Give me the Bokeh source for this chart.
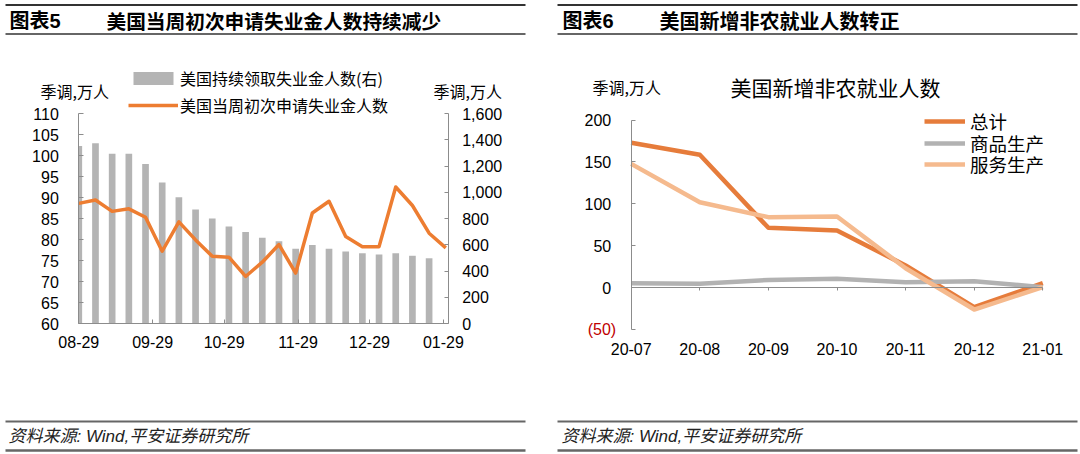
import numpy as np
import pandas as pd
from bokeh.plotting import figure
from bokeh.models import (Range1d, LinearAxis, FixedTicker, NumeralTickFormatter,
                          Label, Legend, LegendItem)
from bokeh.embed import file_html
from bokeh.resources import INLINE

# ---------------- data: chart 5 (weekly jobless claims, 万人) ----------------
week_dates = ["2020-08-29", "2020-09-05", "2020-09-12", "2020-09-19", "2020-09-26",
              "2020-10-03", "2020-10-10", "2020-10-17", "2020-10-24", "2020-10-31",
              "2020-11-07", "2020-11-14", "2020-11-21", "2020-11-28", "2020-12-05",
              "2020-12-12", "2020-12-19", "2020-12-26", "2021-01-02", "2021-01-09",
              "2021-01-16", "2021-01-23", "2021-01-30"]
initial_claims = [88.6, 89.4, 86.7, 87.3, 85.3, 77.2, 84.2, 79.9, 76.0, 75.8, 71.2, 74.6,
                  78.8, 72.0, 86.3, 89.1, 80.7, 78.3, 78.3, 92.5, 88.1, 81.5, 78.0]
continuing_claims = [1352, 1373, 1293, 1293, 1216, 1075, 962, 868, 800, 739, 698, 653,
                     627, 569, 599, 569, 548, 535, 526, 535, 516, 497]
left_ticks = [60, 65, 70, 75, 80, 85, 90, 95, 100, 105, 110]
right_ticks = [0, 200, 400, 600, 800, 1000, 1200, 1400, 1600]
month_ticks = ["2020-08-29", "2020-09-29", "2020-10-29", "2020-11-29", "2020-12-29", "2021-01-29"]
axis_end_date = "2021-01-31"

# ---------------- data: chart 6 (nonfarm payrolls, 万人) ----------------
nfp_months = ["20-07", "20-08", "20-09", "20-10", "20-11", "20-12", "21-01"]
nfp_total = [173.0, 158.5, 71.3, 68.1, 26.4, -23.5, 5.2]
nfp_goods = [5.2, 4.4, 9.0, 10.4, 6.3, 7.5, 0.4]
nfp_service = [147.7, 101.9, 84.0, 84.8, 23.0, -26.3, 0.4]
nfp_ticks = [0, 50, 100, 150, 200]
nfp_neg_ticks = [-50]

# ---------------- fonts / colours ----------------
CJK = "Noto Sans CJK SC"
NUM = "Liberation Sans"
MIX = "'Liberation Sans', 'Noto Sans CJK SC'"
ORANGE = "#ED7D31"
BAR_GRAY = "#B4B4B4"
TOTAL_C = "#E67C3B"
GOODS_C = "#B2B2B2"
SERV_C = "#F5BA8E"
AXIS_C = "#8C8C8C"

# ---------------- page geometry (page pixels) ----------------
W, H = 1078, 452
OX, OY = 0, 0
DAY = 86400000.0


def ms(d):
    return pd.Timestamp(d).value / 1e6


# chart 5 plot area
L_X0, L_PX_DAY = 78.3, 2.383
L_Y_LO, L_Y_HI = 323.0, 113.0
# chart 6 plot area
R_X0, R_DX = 630.7, 68.6
R_Y0, R_PXU = 287.0, 0.8372

p = figure(width=W, height=H, x_range=Range1d(OX, OX + W), y_range=Range1d(OY + H, OY),
           output_backend="svg", toolbar_location=None, x_axis_location=None,
           y_axis_location=None, min_border=0, outline_line_color=None)
p.grid.visible = False

t0 = ms(week_dates[0])
t_end = ms(axis_end_date)
ly_px = (L_Y_LO - L_Y_HI) / (left_ticks[-1] - left_ticks[0])
ry_px = (L_Y_LO - L_Y_HI) / (right_ticks[-1] - right_ticks[0])
p.extra_x_ranges = {
    "lx": Range1d(t0 + (OX - L_X0) / L_PX_DAY * DAY, t0 + (OX + W - L_X0) / L_PX_DAY * DAY),
    "nx": Range1d((OX - R_X0) / R_DX, (OX + W - R_X0) / R_DX),
}
p.extra_y_ranges = {
    "ly": Range1d(left_ticks[0] - (OY + H - L_Y_LO) / ly_px, left_ticks[0] + (L_Y_LO - OY) / ly_px),
    "ry": Range1d(-(OY + H - L_Y_LO) / ry_px, (L_Y_LO - OY) / ry_px),
    "ny": Range1d(-(OY + H - R_Y0) / R_PXU, (R_Y0 - OY) / R_PXU),
}

# ---------------- chart 5 marks ----------------
cont_ms = np.array([ms(d) for d in week_dates[:len(continuing_claims)]])
claims_ms = np.array([ms(d) for d in week_dates[:len(initial_claims)]])
half = 1.4 * DAY
bars = p.quad(left=np.maximum(cont_ms - half, t0), right=cont_ms + half, bottom=0,
              top=continuing_claims, x_range_name="lx", y_range_name="ry",
              fill_color=BAR_GRAY, line_color=None)
claims_line = p.line(x=claims_ms, y=initial_claims, x_range_name="lx", y_range_name="ly",
                     line_color=ORANGE, line_width=3.5, line_join="round")


def style_axis(ax, size="16px"):
    ax.major_label_text_font = NUM
    ax.major_label_text_font_size = size
    ax.major_label_text_color = "#000000"
    ax.axis_line_color = AXIS_C
    ax.major_tick_line_color = AXIS_C
    ax.minor_tick_line_color = None
    ax.axis_label = None


ax = LinearAxis(x_range_name="lx", y_range_name="ly", fixed_location=t0,
                bounds=(left_ticks[0], left_ticks[-1]), ticker=FixedTicker(ticks=left_ticks),
                major_tick_in=5, major_tick_out=0, major_label_standoff=20)
style_axis(ax)
p.add_layout(ax, "left")

ax = LinearAxis(x_range_name="lx", y_range_name="ry", fixed_location=t_end,
                bounds=(right_ticks[0], right_ticks[-1]), ticker=FixedTicker(ticks=right_ticks),
                formatter=NumeralTickFormatter(format="0,0"),
                major_tick_in=4, major_tick_out=0, major_label_standoff=14)
style_axis(ax)
p.add_layout(ax, "right")

mt = [ms(d) for d in month_ticks]
ax = LinearAxis(x_range_name="lx", y_range_name="ly", fixed_location=left_ticks[0],
                bounds=(t0, t_end), ticker=FixedTicker(ticks=mt),
                major_label_overrides={t: pd.Timestamp(d).strftime("%m-%d") for t, d in zip(mt, month_ticks)},
                major_tick_in=4, major_tick_out=0, major_label_standoff=12)
style_axis(ax)
p.add_layout(ax, "below")

leg5 = Legend(items=[LegendItem(label="美国持续领取失业金人数(右)", renderers=[bars]),
                     LegendItem(label="美国当周初次申请失业金人数", renderers=[claims_line])],
              location=(128, H - 116.5), orientation="vertical", background_fill_alpha=0,
              border_line_color=None, padding=0, margin=0, spacing=3, glyph_width=50,
              glyph_height=16, label_height=20, label_standoff=2, label_text_font=CJK,
              label_text_font_size="16px", label_text_color="#000000")
p.add_layout(leg5)

# ---------------- chart 6 marks ----------------
idx = list(range(len(nfp_months)))
r_total = p.line(x=idx, y=nfp_total, x_range_name="nx", y_range_name="ny",
                 line_color=TOTAL_C, line_width=4.5, line_join="round")
r_goods = p.line(x=idx, y=nfp_goods, x_range_name="nx", y_range_name="ny",
                 line_color=GOODS_C, line_width=4.5, line_join="round")
r_serv = p.line(x=idx, y=nfp_service, x_range_name="nx", y_range_name="ny",
                line_color=SERV_C, line_width=4.5, line_join="round")

ax = LinearAxis(x_range_name="nx", y_range_name="ny", fixed_location=0,
                bounds=(nfp_neg_ticks[0], nfp_ticks[-1]), ticker=FixedTicker(ticks=nfp_ticks),
                major_tick_in=4, major_tick_out=0, major_label_standoff=20)
style_axis(ax)
p.add_layout(ax, "left")

ax = LinearAxis(x_range_name="nx", y_range_name="ny", fixed_location=0,
                bounds=(nfp_neg_ticks[0], nfp_ticks[-1]), ticker=FixedTicker(ticks=nfp_neg_ticks),
                major_label_overrides={v: "(%d)" % abs(v) for v in nfp_neg_ticks},
                major_tick_in=4, major_tick_out=0, major_label_standoff=15)
style_axis(ax)
ax.axis_line_color = None
ax.major_label_text_color = "#C00000"
p.add_layout(ax, "left")

ax = LinearAxis(x_range_name="nx", y_range_name="ny", fixed_location=0,
                bounds=(idx[0], idx[-1]), ticker=FixedTicker(ticks=idx),
                major_tick_in=0, major_tick_out=3, major_label_standoff=0)
style_axis(ax)
ax.major_label_text_color = None
p.add_layout(ax, "below")

ax = LinearAxis(x_range_name="nx", y_range_name="ny", fixed_location=nfp_neg_ticks[0],
                bounds=(idx[0], idx[-1]), ticker=FixedTicker(ticks=idx),
                major_label_overrides={i: m for i, m in zip(idx, nfp_months)},
                major_tick_in=0, major_tick_out=0, major_label_standoff=14)
style_axis(ax)
ax.axis_line_color = None
ax.major_tick_line_color = None
p.add_layout(ax, "below")

# one legend row per series so that the row pitch matches the reference
ROW_H = 30
for (lab, rend), cy in zip([("总计", r_total), ("商品生产", r_goods), ("服务生产", r_serv)],
                           [121.0, 142.5, 164.0]):
    lg = Legend(items=[LegendItem(label=lab, renderers=[rend])],
                location=(924, H - (cy + ROW_H / 2)), orientation="vertical",
                background_fill_alpha=0, border_line_color=None, padding=0, margin=0,
                spacing=0, glyph_width=41, glyph_height=ROW_H, label_height=ROW_H,
                label_standoff=5, label_text_font=MIX, label_text_font_size="18.5px",
                label_text_color="#000000")
    p.add_layout(lg)

# ---------------- frame texts & rules ----------------
def add_label(x, y, text, size, font=CJK, style="normal", align="left", color="#000000"):
    p.add_layout(Label(x=x, y=y, text=text, text_font=font, text_font_size=f"{size}px",
                       text_font_style=style, text_align=align, text_baseline="middle",
                       text_color=color))


add_label(9, 20, "图表5", 20, font=MIX, style="bold")
add_label(106, 20, "美国当周初次申请失业金人数持续减少", 19.7, style="bold")
add_label(562, 20, "图表6", 20, font=MIX, style="bold")
add_label(659, 20, "美国新增非农就业人数转正", 20, style="bold")
add_label(40, 90, "季调,万人", 16)
add_label(433, 90, "季调,万人", 16)
add_label(592, 86, "季调,万人", 16)
add_label(835, 86, "美国新增非农就业人数", 21, align="center")
add_label(8, 436, "资料来源: Wind,平安证券研究所", 17, font=MIX, style="italic", color="#222222")
add_label(561, 436, "资料来源: Wind,平安证券研究所", 17, font=MIX, style="italic", color="#222222")

rule_x0 = [5, 557]
rule_x1 = [525, 1077]
for yy, lw, col in [(4.5, 2, "#333333"), (33.5, 1.5, "#333333"), (421, 2, "#666666"), (450, 2.5, "#666666")]:
    p.segment(x0=rule_x0, x1=rule_x1, y0=[yy, yy], y1=[yy, yy], line_width=lw, line_color=col)

open("out.html", "w").write(file_html(p, INLINE))
